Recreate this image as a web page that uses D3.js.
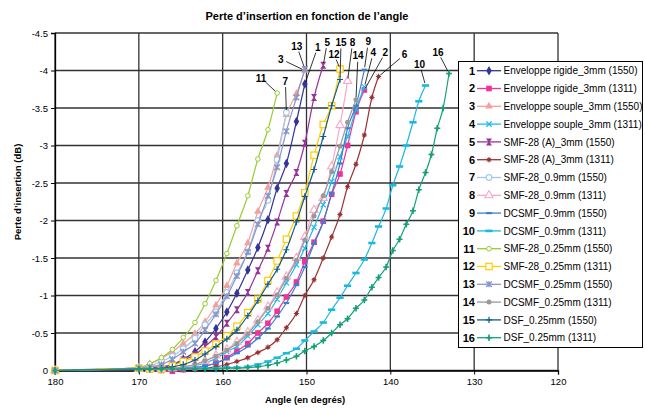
<!DOCTYPE html>
<html>
<head>
<meta charset="utf-8">
<script src="https://cdnjs.cloudflare.com/ajax/libs/d3/7.8.5/d3.min.js"></script>
<style>
body{margin:0;background:#fff;}
text{font-family:"Liberation Sans",Arial,sans-serif;fill:#000;}
</style>
</head>
<body>
<svg id="chart" width="645" height="408"></svg>
<script>
// angles of the measurement points (same for every fibre, each series stops earlier or later)
var angles = [180, 170, 168.7, 167.3, 166.0, 164.7, 163.3, 162.1, 160.8, 159.5, 158.3, 157.0, 155.8, 154.6, 153.5, 152.4, 151.2, 150.2, 149.1, 148.0, 147.0, 146.0, 145.1, 144.1, 143.1, 142.2, 141.4, 140.5, 139.7, 138.9, 138.1, 137.3, 136.6, 135.8, 135.1, 134.4, 133.7, 133.0];

var s1 = [0, -0.03, -0.04, -0.05, -0.08, -0.15, -0.25, -0.38, -0.56, -0.78, -1.03, -1.34, -1.64, -2.01, -2.43, -2.76, -3.32, -3.82];
var s2 = [0, -0.02, -0.01, 0.0, 0.01, -0.01, -0.03, -0.06, -0.10, -0.17, -0.26, -0.36, -0.50, -0.63, -0.79, -0.98, -1.18, -1.45, -1.71, -1.99, -2.35, -2.62, -3.00, -3.45, -3.74];
var s3 = [0, -0.04, -0.09, -0.16, -0.25, -0.36, -0.49, -0.65, -0.87, -1.13, -1.43, -1.70, -2.12, -2.44, -2.87, -3.41, -3.69, -4.00];
var s4 = [0, -0.02, -0.01, -0.01, -0.02, -0.03, -0.06, -0.10, -0.16, -0.25, -0.32, -0.46, -0.61, -0.76, -0.95, -1.17, -1.41, -1.63, -1.91, -2.21, -2.52, -2.85, -3.12, -3.48, -3.78];
var s5 = [0, -0.03, -0.03, -0.04, -0.07, -0.14, -0.21, -0.32, -0.45, -0.63, -0.81, -1.04, -1.33, -1.63, -1.98, -2.36, -2.64, -3.03, -3.64, -4.07];
var s6 = [0, -0.01, -0.01, -0.01, -0.01, -0.02, -0.03, -0.03, -0.05, -0.08, -0.12, -0.17, -0.24, -0.31, -0.41, -0.57, -0.76, -1.00, -1.21, -1.50, -1.78, -2.08, -2.45, -2.75, -3.14, -3.64, -3.92];
var s7 = [0, -0.04, -0.06, -0.12, -0.19, -0.29, -0.43, -0.61, -0.78, -1.04, -1.30, -1.58, -2.00, -2.27, -2.81, -3.44];
var s8 = [0, -0.02, -0.02, -0.02, -0.03, -0.05, -0.08, -0.13, -0.20, -0.28, -0.38, -0.51, -0.67, -0.85, -1.04, -1.25, -1.50, -1.78, -2.14, -2.30, -2.72, -3.27, -3.86];
var s9 = [0, -0.01, -0.01, -0.01, -0.02, -0.03, -0.04, -0.06, -0.10, -0.16, -0.23, -0.32, -0.43, -0.56, -0.72, -0.90, -1.14, -1.38, -1.69, -1.98, -2.36, -2.76, -3.23, -3.53, -4.01];
var s10 = [0, -0.02, -0.02, -0.02, -0.02, -0.03, -0.03, -0.03, -0.03, -0.04, -0.04, -0.05, -0.08, -0.12, -0.17, -0.23, -0.29, -0.40, -0.52, -0.64, -0.81, -0.97, -1.13, -1.30, -1.48, -1.70, -1.92, -2.16, -2.47, -2.72, -3.00, -3.31, -3.59, -3.80];
var s11 = [0, -0.04, -0.09, -0.17, -0.28, -0.44, -0.64, -0.89, -1.20, -1.56, -1.93, -2.33, -2.82, -3.21, -3.70];
var s12 = [0, -0.03, -0.02, -0.02, -0.06, -0.12, -0.18, -0.26, -0.35, -0.46, -0.59, -0.77, -0.95, -1.20, -1.46, -1.75, -2.06, -2.37, -2.87, -3.28, -3.53, -4.02];
var s13 = [0, -0.03, -0.05, -0.08, -0.15, -0.25, -0.36, -0.54, -0.75, -0.99, -1.26, -1.58, -1.95, -2.33, -2.71, -3.19, -3.64, -4.02];
var s14 = [0, -0.02, -0.02, -0.02, -0.03, -0.05, -0.08, -0.13, -0.19, -0.27, -0.36, -0.49, -0.65, -0.83, -1.01, -1.23, -1.47, -1.74, -2.06, -2.33, -2.65, -2.99, -3.31, -3.61];
var s15 = [0, -0.02, -0.02, -0.03, -0.05, -0.08, -0.14, -0.22, -0.32, -0.42, -0.54, -0.73, -0.93, -1.15, -1.35, -1.61, -1.98, -2.32, -2.68, -3.12, -3.53, -3.88];
var s16 = [0, -0.02, -0.02, -0.02, -0.02, -0.02, -0.02, -0.02, -0.02, -0.03, -0.03, -0.04, -0.05, -0.07, -0.10, -0.14, -0.19, -0.26, -0.32, -0.40, -0.50, -0.61, -0.69, -0.83, -0.94, -1.11, -1.24, -1.38, -1.60, -1.75, -1.95, -2.13, -2.41, -2.64, -2.88, -3.23, -3.50, -3.96];

var seriesNames = [
    'Enveloppe rigide_3mm (1550)', 'Enveloppe rigide_3mm (1311)',
    'Enveloppe souple_3mm (1550)', 'Enveloppe souple_3mm (1311)',
    'SMF-28 (A)_3mm (1550)', 'SMF-28 (A)_3mm (1311)',
    'SMF-28_0.9mm (1550)', 'SMF-28_0.9mm (1311)',
    'DCSMF_0.9mm (1550)', 'DCSMF_0.9mm (1311)',
    'SMF-28_0.25mm (1550)', 'SMF-28_0.25mm (1311)',
    'DCSMF_0.25mm (1550)', 'DCSMF_0.25mm (1311)',
    'DSF_0.25mm (1550)', 'DSF_0.25mm (1311)'
];
var xTicks = [180, 170, 160, 150, 140, 130, 120];
var yTicks = [0, -0.5, -1, -1.5, -2, -2.5, -3, -3.5, -4, -4.5];

var values = [s1, s2, s3, s4, s5, s6, s7, s8, s9, s10, s11, s12, s13, s14, s15, s16];

// styles
var colors = ['#333399', '#ee3399', '#f4a19c', '#22b8ee', '#993399', '#993333', '#9fc9f0', '#f9a8c8',
              '#3a7fd0', '#1cb8e0', '#99cc33', '#ffcc00', '#8a96c8', '#999999', '#0f5c8f', '#16a07a'];
var markers = ['diamond', 'square', 'triangle', 'x', 'hourglass', 'star', 'ocircle', 'otriangle',
               'dash', 'wdash', 'ocircleS', 'osquare', 'xstar', 'dot', 'plus', 'plusF'];
// label offset from the last point of each series (px)
var labelOff = [[13, -37], [21, -37.5], [-24, -11.5], [9, -34.5], [4, -23], [26, -22], [-1, -31.5], [5, -38.5],
                [4, -28], [-6, -21.5], [-16, -15], [-6, -15], [-8, -23], [2, -44], [1, -37], [-11, -21.5]];

var svg = d3.select('#chart');
var x = d3.scaleLinear().domain([180, 120]).range([55, 558]);
var y = d3.scaleLinear().domain([0, -4.5]).range([370.5, 33]);

// grid
svg.append('g').selectAll('line.v').data(xTicks).enter().append('line')
    .attr('x1', function(d){ return x(d); }).attr('x2', function(d){ return x(d); })
    .attr('y1', y(0)).attr('y2', y(-4.5))
    .style('stroke', '#333').style('stroke-width', 1.3);
svg.append('g').selectAll('line.h').data(yTicks).enter().append('line')
    .attr('x1', x(180)).attr('x2', x(120))
    .attr('y1', function(d){ return y(d); }).attr('y2', function(d){ return y(d); })
    .style('stroke', '#333').style('stroke-width', 1.3);

// axes
var xAxis = svg.append('g').attr('transform', 'translate(0,' + y(0) + ')')
    .call(d3.axisBottom(x).tickValues(xTicks).tickSize(4).tickPadding(4).tickFormat(function(d){ return String(d); }));
var yAxis = svg.append('g').attr('transform', 'translate(' + x(180) + ',0)')
    .call(d3.axisLeft(y).tickValues(yTicks).tickSize(4).tickPadding(3).tickFormat(function(d){ return String(d); }));
[xAxis, yAxis].forEach(function(a){
    a.select('.domain').style('stroke', '#000').style('stroke-width', 1.3);
    a.selectAll('.tick line').style('stroke', '#000');
    a.selectAll('.tick text').style('font-size', '9.5px').style('font-family', '"Liberation Sans",Arial,sans-serif');
});

function drawMarker(g, kind, color){
    if(kind == 'diamond'){
        g.append('path').attr('d', d3.symbol(d3.symbolDiamond, 26)()).style('fill', color);
    }else if(kind == 'square'){
        g.append('rect').attr('x', -2.8).attr('y', -2.8).attr('width', 5.6).attr('height', 5.6).style('fill', color);
    }else if(kind == 'triangle'){
        g.append('path').attr('d', d3.symbol(d3.symbolTriangle, 26)()).style('fill', color);
    }else if(kind == 'x'){
        g.append('path').attr('d', 'M-2.6,-2.6L2.6,2.6M-2.6,2.6L2.6,-2.6').style('stroke', color).style('stroke-width', 1.3);
    }else if(kind == 'hourglass'){
        g.append('path').attr('d', 'M-3,-3.5L3,-3.5L0.6,0L3,3.5L-3,3.5L-0.6,0Z').style('fill', color);
    }else if(kind == 'star'){
        g.append('path').attr('d', 'M-2.6,0H2.6M0,-2.8V2.8M-1.9,-1.9L1.9,1.9M-1.9,1.9L1.9,-1.9').style('stroke', color).style('stroke-width', 1);
        g.append('circle').attr('r', 1.7).style('fill', color);
    }else if(kind == 'ocircle'){
        g.append('circle').attr('r', 2.9).style('fill', '#fff').style('stroke', color).style('stroke-width', 1.1);
    }else if(kind == 'otriangle'){
        g.append('path').attr('d', d3.symbol(d3.symbolTriangle, 30)()).style('fill', '#fff').style('stroke', color).style('stroke-width', 1.1);
    }else if(kind == 'dash'){
        g.append('rect').attr('x', -2.8).attr('y', -1.1).attr('width', 5.6).attr('height', 2.2).style('fill', color);
    }else if(kind == 'wdash'){
        g.append('rect').attr('x', -3.6).attr('y', -1.3).attr('width', 7.2).attr('height', 2.6).style('fill', color);
    }else if(kind == 'ocircleS'){
        g.append('circle').attr('r', 2.3).style('fill', '#fff').style('stroke', color).style('stroke-width', 1);
    }else if(kind == 'osquare'){
        g.append('rect').attr('x', -3.2).attr('y', -3.2).attr('width', 6.4).attr('height', 6.4).style('fill', '#fff').style('stroke', color).style('stroke-width', 1.2);
    }else if(kind == 'xstar'){
        g.append('path').attr('d', 'M-2.8,-2.8L2.8,2.8M-2.8,2.8L2.8,-2.8M0,-3V3').style('stroke', color).style('stroke-width', 1.4);
    }else if(kind == 'dot'){
        g.append('circle').attr('r', 2.5).style('fill', color);
    }else if(kind == 'plus'){
        g.append('path').attr('d', 'M-3,0H3M0,-3.2V3.2').style('stroke', color).style('stroke-width', 1.2);
    }else if(kind == 'plusF'){
        g.append('path').attr('d', 'M-3,0H3M0,-3.2V3.2').style('stroke', color).style('stroke-width', 1.6);
        g.append('circle').attr('r', 1.5).style('fill', color);
    }
}

var line = d3.line()
    .x(function(d){ return x(d[0]); })
    .y(function(d){ return y(d[1]); })
    .curve(d3.curveMonotoneX);

var plot = svg.append('g');
values.forEach(function(vals, i){
    var pts = vals.map(function(v, k){ return [angles[k], v]; });
    var g = plot.append('g');
    g.append('path').datum(pts).attr('d', line)
        .style('fill', 'none').style('stroke', colors[i]).style('stroke-width', 1.2);
    g.selectAll('g.m').data(pts).enter().append('g')
        .attr('transform', function(d){ return 'translate(' + x(d[0]) + ',' + y(d[1]) + ')'; })
        .each(function(){ drawMarker(d3.select(this), markers[i], colors[i]); });
});

// numbered labels at the end of each curve
values.forEach(function(vals, i){
    var n = vals.length - 1;
    var ex = x(angles[n]), ey = y(vals[n]);
    var lx = ex + labelOff[i][0], ly = ey + labelOff[i][1];
    var dx = ex - lx, dy = ey - ly, len = Math.sqrt(dx*dx + dy*dy);
    svg.append('line')
        .attr('x1', lx + dx/len*6).attr('y1', ly + dy/len*6)
        .attr('x2', ex - dx/len*2.5).attr('y2', ey - dy/len*2.5)
        .style('stroke', '#000').style('stroke-width', 0.8);
    svg.append('text').attr('x', lx).attr('y', ly).attr('dy', '0.35em')
        .attr('text-anchor', 'middle').style('font-size', '10px').style('font-weight', 'bold')
        .text(i + 1);
});

// legend
var legend = svg.append('g');
legend.append('rect').attr('x', 458.5).attr('y', 61.5).attr('width', 184).attr('height', 286)
    .style('fill', '#fff').style('stroke', '#000').style('stroke-width', 1);
seriesNames.forEach(function(name, i){
    var ry = 70.7 + i * 17.8;
    legend.append('text').attr('x', 475).attr('y', ry).attr('dy', '0.36em').attr('text-anchor', 'end')
        .style('font-size', '11px').style('font-weight', 'bold').text(i + 1);
    legend.append('line').attr('x1', 477).attr('x2', 501).attr('y1', ry).attr('y2', ry)
        .style('stroke', colors[i]).style('stroke-width', 1.3);
    drawMarker(legend.append('g').attr('transform', 'translate(489,' + ry + ')'), markers[i], colors[i]);
    legend.append('text').attr('x', 503.5).attr('y', ry).attr('dy', '0.36em')
        .style('font-size', '10px').text(name);
});

// titles
svg.append('text').attr('x', 307).attr('y', 16).attr('dy', '0.35em').attr('text-anchor', 'middle')
    .style('font-size', '11px').style('font-weight', 'bold')
    .text('Perte d\u2019insertion en fonction de l\u2019angle');
svg.append('text').attr('x', 305).attr('y', 403).attr('text-anchor', 'middle')
    .style('font-size', '9.5px').style('font-weight', 'bold').text('Angle (en degr\u00e9s)');
svg.append('text').attr('transform', 'translate(18,192) rotate(-90)').attr('dy', '0.35em').attr('text-anchor', 'middle')
    .style('font-size', '9.5px').style('font-weight', 'bold').text('Perte d\u2019insertion (dB)');
</script>
</body>
</html>
